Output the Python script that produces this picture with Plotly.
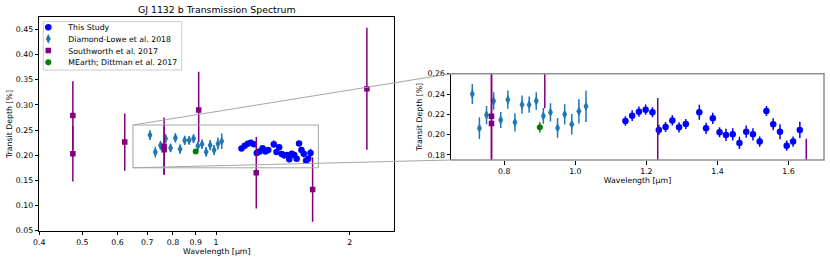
import math
import plotly.graph_objects as go

# ---------------- data ----------------
study_wl = [1.141, 1.160, 1.179, 1.198, 1.217, 1.235, 1.254, 1.273, 1.292, 1.311,
            1.349, 1.368, 1.387, 1.406, 1.424, 1.443, 1.462, 1.481, 1.500, 1.519,
            1.538, 1.557, 1.576, 1.595, 1.613, 1.632]
study_depth = [0.2134, 0.2187, 0.2226, 0.2246, 0.2220, 0.2046, 0.2075, 0.2140, 0.2072, 0.2105,
               0.2220, 0.2062, 0.2160, 0.2023, 0.1997, 0.2003, 0.1918, 0.2029, 0.2003, 0.1931,
               0.2233, 0.2102, 0.2029, 0.1891, 0.1931, 0.2046]
study_err = [0.0046, 0.0054, 0.0050, 0.0050, 0.0050, 0.0050, 0.0050, 0.0050, 0.0050, 0.0050,
             0.0074, 0.0055, 0.0055, 0.0050, 0.0060, 0.0060, 0.0060, 0.0060, 0.0060, 0.0050,
             0.0050, 0.0060, 0.0074, 0.0050, 0.0050, 0.0080]

dl_wl = [0.71, 0.73, 0.75, 0.77, 0.79, 0.81, 0.83, 0.85, 0.87, 0.89,
         0.91, 0.93, 0.95, 0.97, 0.99, 1.01, 1.03]
dl_depth = [0.2400, 0.2063, 0.2193, 0.2331, 0.2144, 0.2344, 0.2121, 0.2295, 0.2295, 0.2331,
            0.2184, 0.2220, 0.2066, 0.2200, 0.2102, 0.2230, 0.2279]
dl_err = [0.0098, 0.0107, 0.0090, 0.0087, 0.0080, 0.0090, 0.0090, 0.0090, 0.0080, 0.0087,
          0.0077, 0.0090, 0.0098, 0.0100, 0.0100, 0.0120, 0.0154]

sw_wl = [0.476, 0.476, 0.623, 0.764, 0.764, 0.914, 1.232, 1.650, 2.186]
sw_depth = [0.279, 0.203, 0.226, 0.218, 0.211, 0.290, 0.165, 0.132, 0.332]
sw_err_plus = [0.068, 0.055, 0.057, 0.057, 0.050, 0.076, 0.071, 0.064, 0.121]
sw_err_minus = [0.068, 0.055, 0.057, 0.057, 0.050, 0.064, 0.071, 0.064, 0.121]

me_wl = [0.90]
me_depth = [0.2072]
me_err = [0.005]

left_xticks = [0.4, 0.5, 0.6, 0.7, 0.8, 0.9, 1, 2]
left_xtick_text = ["0.4", "0.5", "0.6", "0.7", "0.8", "0.9", "1", "2"]
left_yticks = [0.05, 0.10, 0.15, 0.20, 0.25, 0.30, 0.35, 0.40, 0.45]
right_xticks = [0.8, 1.0, 1.2, 1.4, 1.6]
right_yticks = [0.18, 0.20, 0.22, 0.24, 0.26]

# ---------------- layout geometry ----------------
W, H = 830, 261
def px_x(p):
    return p / W
def px_y(p):
    return 1 - p / H

L_dom_x = [px_x(39.3), px_x(394.3)]
L_dom_y = [px_y(230.7), px_y(17.3)]
R_dom_x = [px_x(451.0), px_x(824.0)]
R_dom_y = [px_y(160.0), px_y(73.7)]

L_xr = [0.4, 2.52]
L_yr = [0.05, 0.474]
R_xr = [0.65, 1.70]
R_yr = [0.175, 0.26]

def left_paper(xv, yv):
    lx0, lx1 = math.log10(L_xr[0]), math.log10(L_xr[1])
    fx = (math.log10(xv) - lx0) / (lx1 - lx0)
    fy = (yv - L_yr[0]) / (L_yr[1] - L_yr[0])
    return (L_dom_x[0] + fx * (L_dom_x[1] - L_dom_x[0]),
            L_dom_y[0] + fy * (L_dom_y[1] - L_dom_y[0]))

FONT = "DejaVu Sans"
C_STUDY = "#0000ff"
C_DL = "#1f77b4"
C_SW = "#800080"
C_ME = "#008000"

fig = go.Figure()

def add_series(x, y, ep, em, color, symbol, size, name, legend):
    for i, (xa, ya) in enumerate([("x", "y"), ("x2", "y2")]):
        fig.add_trace(go.Scatter(
            x=x, y=y, mode="markers", name=name,
            xaxis=xa, yaxis=ya,
            marker=dict(color=color, symbol=symbol, size=size, line=dict(width=0)),
            error_y=dict(type="data", array=ep, arrayminus=em, symmetric=False,
                         color=color, thickness=1.5, width=0),
            showlegend=(i == 0), legend=legend, cliponaxis=True,
        ))

add_series(study_wl, study_depth, study_err, study_err, C_STUDY, "circle", 6.5, "This Study", "legend")
add_series(dl_wl, dl_depth, dl_err, dl_err, C_DL, "diamond-tall", 7, "Diamond-Lowe et al. 2018", "legend2")
add_series(sw_wl, sw_depth, sw_err_plus, sw_err_minus, C_SW, "square", 5.5, "Southworth et al. 2017", "legend3")
add_series(me_wl, me_depth, me_err, me_err, C_ME, "circle", 6, "MEarth; Dittman et al. 2017", "legend4")

axis_common = dict(showgrid=False, zeroline=False, ticks="outside", ticklen=3.5,
                   tickwidth=1, tickcolor="black", linecolor="black", linewidth=1,
                   tickfont=dict(family=FONT, size=7.8, color="black"),
                   title_font=dict(family=FONT, size=7.8, color="black"))

fig.update_layout(
    width=W, height=H, margin=dict(l=0, r=0, t=0, b=0),
    paper_bgcolor="white", plot_bgcolor="white", template="none",
    font=dict(family=FONT, size=7.8, color="black"),
    title=dict(text="GJ 1132 b Transmission Spectrum", x=(L_dom_x[0] + L_dom_x[1]) / 2,
               xref="paper", y=px_y(10), yref="paper", xanchor="center", yanchor="middle",
               font=dict(family=FONT, size=9.4, color="black")),
    xaxis=dict(domain=L_dom_x, type="log", range=[math.log10(L_xr[0]), math.log10(L_xr[1])],
               tickvals=left_xticks, ticktext=left_xtick_text, showline=True, mirror=True,
               title=dict(text="Wavelength [µm]", standoff=2), anchor="y", **axis_common),
    yaxis=dict(domain=L_dom_y, range=L_yr, tickvals=left_yticks, tickformat=".2f",
               showline=True, mirror=True, anchor="x",
               title=dict(text="Transit Depth [%]", standoff=2), **axis_common),
    xaxis2=dict(domain=R_dom_x, range=R_xr, tickvals=right_xticks, tickformat=".1f",
                showline=False, anchor="y2",
                title=dict(text="Wavelength [µm]", standoff=2), **axis_common),
    yaxis2=dict(domain=R_dom_y, range=R_yr, tickvals=right_yticks, tickformat=".2f",
                showline=True, anchor="x2",
                title=dict(text="Transit Depth [%]", standoff=3), **axis_common),
    showlegend=True,
)

# legends: one entry each, stacked tightly like the reference
leg_x = px_x(68.3 - 40)
for name, ypx in [("legend", 27.3), ("legend2", 38.8), ("legend3", 50.5), ("legend4", 62.2)]:
    fig.update_layout(**{name: dict(x=leg_x, y=px_y(ypx), xanchor="left", yanchor="middle",
                                     bgcolor="rgba(0,0,0,0)", borderwidth=0,
                                     font=dict(family=FONT, size=7.8, color="black"),
                                     itemclick=False, itemdoubleclick=False)})

gray = "#a6a6a6"
shapes = []
# legend frame
shapes.append(dict(type="rect", xref="paper", yref="paper",
                   x0=px_x(43.3), x1=px_x(181.7), y0=px_y(70.0), y1=px_y(21.7),
                   line=dict(color="#cccccc", width=1), fillcolor="rgba(255,255,255,0.8)",
                   layer="above"))
# inset rectangle on the main panel
rx0, ry0 = left_paper(R_xr[0], R_yr[0])
rx1, ry1 = left_paper(R_xr[1], R_yr[1])
shapes.append(dict(type="rect", xref="paper", yref="paper", x0=rx0, x1=rx1, y0=ry0, y1=ry1,
                   line=dict(color=gray, width=1), fillcolor="rgba(0,0,0,0)", layer="above"))
# connectors
shapes.append(dict(type="line", xref="paper", yref="paper", x0=rx0, y0=ry1,
                   x1=R_dom_x[0], y1=R_dom_y[1], line=dict(color=gray, width=1)))
shapes.append(dict(type="line", xref="paper", yref="paper", x0=rx0, y0=ry0,
                   x1=R_dom_x[0], y1=R_dom_y[0], line=dict(color=gray, width=1)))
# inset frame (bottom, right, top in grey)
path = "M {a},{b} L {c},{b} L {c},{d} L {a},{d}".format(
    a=R_dom_x[0], b=R_dom_y[0], c=R_dom_x[1], d=R_dom_y[1])
shapes.append(dict(type="path", xref="paper", yref="paper", path=path,
                   line=dict(color="#909090", width=1.5)))
fig.update_layout(shapes=shapes)

fig.write_html("out.html",
               config={"displayModeBar": False},
               post_script="document.body.style.margin='0';document.body.style.overflow='hidden';")
